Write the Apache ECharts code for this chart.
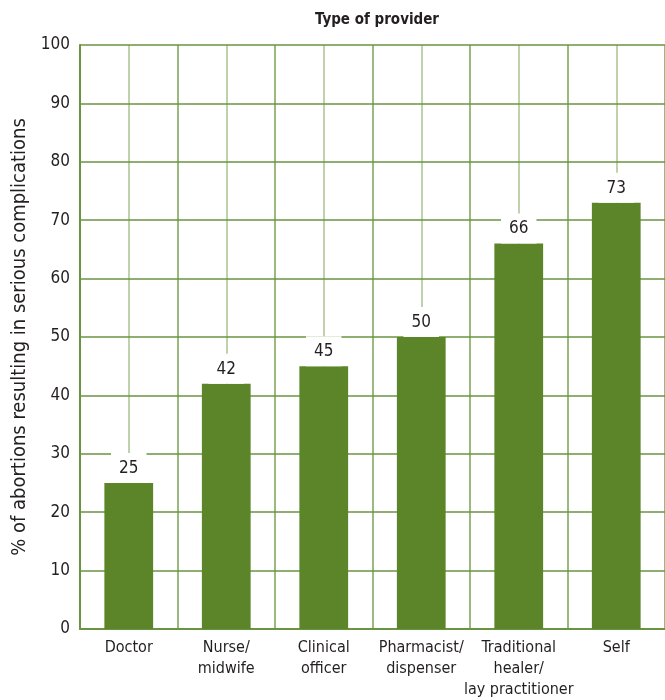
<!DOCTYPE html>
<html>
<head>
<meta charset="utf-8">
<script src="https://cdn.jsdelivr.net/npm/echarts@6/dist/echarts.min.js"></script>
<style>
  html, body { margin: 0; padding: 0; background: #ffffff; }
  #chart { width: 665px; height: 700px; }
</style>
</head>
<body>
<div id="chart"></div>
<script>
// Provider categories and share of abortions with serious complications (%)
const providers = ['Doctor', 'Nurse/\nmidwife', 'Clinical\nofficer', 'Pharmacist/\ndispenser', 'Traditional\nhealer/\nlay practitioner', 'Self'];
const complicationPct = [25, 42, 45, 50, 66, 73];
const yTicks = [0, 10, 20, 30, 40, 50, 60, 70, 80, 90, 100];

const FONT = "'DejaVu Sans Condensed', 'Liberation Sans Narrow', sans-serif";
const TEXT = '#231f20';
const BAR = '#5c8428';
const GRID_H = '#6a9440';
const GRID_V = '#8fb06e';
const GRID_MID = '#a9c48c';

const chart = echarts.init(document.getElementById('chart'));
chart.setOption({
  animation: false,
  title: {
    text: 'Type of provider',
    left: 372, top: 8, textAlign: 'center',
    textStyle: { fontFamily: FONT, fontSize: 15, fontWeight: 'bold', color: TEXT }
  },
  grid: { left: 80, right: 0, top: 45, bottom: 70 },
  xAxis: [
    {
      type: 'category',
      data: providers,
      boundaryGap: true,
      axisLine: { show: true, lineStyle: { color: GRID_H, width: 2 } },
      axisTick: { show: false },
      splitLine: { show: true, lineStyle: { color: GRID_V, width: 1.5 } },
      axisLabel: {
        interval: 0, margin: 8, color: TEXT,
        fontFamily: FONT, fontSize: 16, lineHeight: 21
      },
      z: 3
    },
    {
      // centre lines between category boundaries
      type: 'value', min: 0, max: 6, interval: 0.5,
      position: 'bottom', show: true,
      axisLine: { show: false }, axisTick: { show: false }, axisLabel: { show: false },
      splitLine: { show: true, lineStyle: { color: GRID_MID, width: 1.5 } }
    }
  ],
  yAxis: {
    type: 'value', min: 0, max: 100, interval: 10,
    name: '% of abortions resulting in serious complications',
    nameLocation: 'middle', nameGap: 45, nameRotate: 90,
    nameTextStyle: { fontFamily: FONT, fontSize: 20, color: TEXT },
    axisLine: { show: true, lineStyle: { color: GRID_H, width: 2 } },
    axisTick: { show: false },
    axisLabel: {
      margin: 10, color: TEXT, fontFamily: FONT, fontSize: 17,
      formatter: v => yTicks.includes(v) ? String(v) : ''
    },
    splitLine: { show: true, lineStyle: { color: GRID_H, width: 1.5 } },
    z: 4
  },
  series: [{
    type: 'bar',
    xAxisIndex: 0,
    data: complicationPct,
    barWidth: '50%',
    itemStyle: { color: BAR },
    z: 5,
    label: {
      show: true, position: 'top', distance: 0,
      color: TEXT, fontFamily: FONT, fontSize: 17,
      backgroundColor: '#ffffff', padding: [7, 8, 6, 8]
    }
  }]
});
</script>
</body>
</html>
